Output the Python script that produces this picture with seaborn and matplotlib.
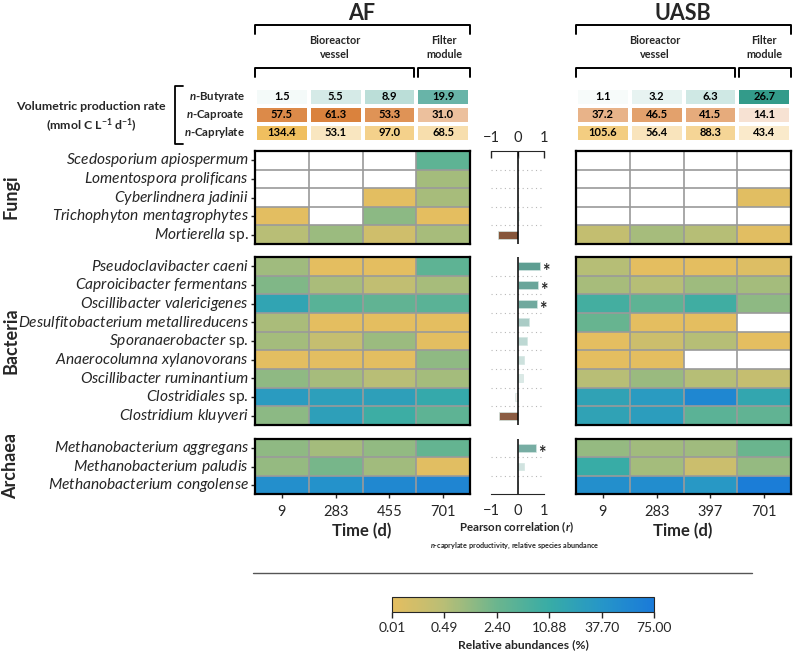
import numpy as np
import pandas as pd
import matplotlib
matplotlib.use("Agg")
import matplotlib.pyplot as plt
import seaborn as sns
from matplotlib.colors import LinearSegmentedColormap, FuncNorm, TwoSlopeNorm
from matplotlib.lines import Line2D

nan = np.nan

# --- data ---
days_af = [9, 283, 455, 701]
days_uasb = [9, 283, 397, 701]
acids = ["Butyrate", "Caproate", "Caprylate"]
prod_af = [[1.5, 5.5, 8.9, 19.9],
           [57.5, 61.3, 53.3, 31.0],
           [134.4, 53.1, 97.0, 68.5]]
prod_uasb = [[1.1, 3.2, 6.3, 26.7],
             [37.2, 46.5, 41.5, 14.1],
             [105.6, 56.4, 88.3, 43.4]]

fungi = ["Scedosporium apiospermum", "Lomentospora prolificans", "Cyberlindnera jadinii",
         "Trichophyton mentagrophytes", "Mortierella sp."]
bacteria = ["Pseudoclavibacter caeni", "Caproicibacter fermentans", "Oscillibacter valericigenes",
            "Desulfitobacterium metallireducens", "Sporanaerobacter sp.", "Anaerocolumna xylanovorans",
            "Oscillibacter ruminantium", "Clostridiales sp.", "Clostridium kluyveri"]
archaea = ["Methanobacterium aggregans", "Methanobacterium paludis", "Methanobacterium congolense"]

# relative abundances (%), NaN = not detected
fungi_af = [[nan, nan, nan, 4.5],
            [nan, nan, nan, 0.97],
            [nan, nan, 0.03, 0.9],
            [0.03, nan, 1.6, 0.02],
            [0.5, 1.2, 0.25, 0.9]]
fungi_uasb = [[nan, nan, nan, nan],
              [nan, nan, nan, nan],
              [nan, nan, nan, 0.05],
              [nan, nan, nan, nan],
              [0.37, 0.95, 0.55, 0.06]]
bacteria_af = [[1.1, 0.02, 0.02, 4.5],
               [1.9, 0.85, 0.4, 0.9],
               [21, 5.5, 4.0, 5.3],
               [0.85, 0.02, 0.02, 0.02],
               [1.0, 0.35, 1.2, 0.03],
               [0.03, 0.03, 0.03, 1.5],
               [1.5, 0.95, 0.5, 0.97],
               [31, 27, 26, 15],
               [1.6, 26, 10, 4.5]]
bacteria_uasb = [[0.55, 0.02, 0.02, 0.1],
                 [0.9, 0.55, 1.15, 1.0],
                 [8.8, 4.5, 9.5, 1.55],
                 [3.0, 0.02, 0.02, nan],
                 [0.02, 0.28, 0.55, 0.02],
                 [0.02, 0.02, nan, nan],
                 [0.5, 1.25, 0.55, 0.35],
                 [23, 32, 58, 18],
                 [23, 29, 5.0, 4.0]]
archaea_af = [[1.5, 1.0, 1.45, 3.6],
              [1.35, 2.1, 1.05, 0.05],
              [47, 43, 56, 60]]
archaea_uasb = [[1.35, 1.05, 1.1, 2.5],
                [11, 1.0, 0.3, 1.35],
                [47, 50, 35, 70]]

# Pearson r (n-caprylate productivity vs. species abundance)
r_fungi = [0.0, 0.0, 0.0, 0.05, -0.72]
r_bacteria = [0.84, 0.78, 0.75, 0.44, 0.34, 0.26, 0.19, -0.08, -0.69]
r_archaea = [0.71, 0.24, 0.02]
sig_fungi = [False, False, False, False, False]
sig_bacteria = [True, True, True, False, False, False, False, False, False]
sig_archaea = [True, False, False]

cbar_ticks = [0.01, 0.49, 2.40, 10.88, 37.70, 75.00]

# --- style ---
sns.set_style("white")
plt.rcParams["font.family"] = "Lato"
plt.rcParams["mathtext.fontset"] = "custom"
plt.rcParams["mathtext.rm"] = "Lato"
plt.rcParams["mathtext.it"] = "Lato:italic"
plt.rcParams["mathtext.bf"] = "Lato:bold"
plt.rcParams["mathtext.bfit"] = "Lato:italic:bold"

W, H = 794, 662
fig = plt.figure(figsize=(W / 100, H / 100), dpi=100)


def px_axes(x0, y0, x1, y1):
    return fig.add_axes([x0 / W, 1 - y1 / H, (x1 - x0) / W, (y1 - y0) / H])


def px_text(x, y, s, **kw):
    kw.setdefault("ha", "center")
    kw.setdefault("va", "center")
    return fig.text(x / W, 1 - y / H, s, **kw)


def px_line(xs, ys, **kw):
    kw.setdefault("color", "black")
    kw.setdefault("lw", 1.4)
    fig.add_artist(Line2D([x / W for x in xs], [1 - y / H for y in ys], **kw))


def fmt_species(name):
    if name.endswith(" sp."):
        return r"$\mathit{" + name[:-4] + r"}$ sp."
    return r"$\mathit{" + name.replace(" ", r"\ ") + "}$"


# colour scales
abund_cmap = LinearSegmentedColormap.from_list(
    "abund", ["#E5BE60", "#B8BE76", "#6BB58E", "#38ACA6", "#2696C8", "#1A7AD9"])
pos = np.linspace(0, 1, len(cbar_ticks))
abund_norm = FuncNorm((lambda x: np.interp(x, cbar_ticks, pos),
                       lambda y: np.interp(y, pos, cbar_ticks)), vmin=0.01, vmax=75)

prod_cmaps = [LinearSegmentedColormap.from_list("but", ["#FFFFFF", "#2A9685"]),
              LinearSegmentedColormap.from_list("cap", ["#FFFFFF", "#D97F38"]),
              LinearSegmentedColormap.from_list("cyl", ["#FFFFFF", "#F0BE5C"])]
prod_vmax = [28, 63, 137]

div_cmap = LinearSegmentedColormap.from_list("div", ["#8E4B25", "#FFFFFF", "#52A898"])
div_norm = TwoSlopeNorm(vcenter=0, vmin=-0.75, vmax=0.85)

rows_y = {"fungi": (151, 244), "bacteria": (257, 425), "archaea": (439, 494)}
groups = [("fungi", fungi), ("bacteria", bacteria), ("archaea", archaea)]


def draw_side(x0, x1, data_list, prod, days, labels_on):
    # production table
    ax = px_axes(x0, 88, x1, 142)
    dfp = pd.DataFrame(prod, index=acids, columns=days)
    for i in range(3):
        mask = np.ones_like(dfp.values, dtype=bool)
        mask[i, :] = False
        sns.heatmap(dfp, mask=mask, cmap=prod_cmaps[i], vmin=0, vmax=prod_vmax[i],
                    annot=True, fmt=".1f", cbar=False, linewidths=2.6, linecolor="white",
                    annot_kws={"fontsize": 8, "fontweight": "bold", "color": "black"},
                    xticklabels=False, yticklabels=False, ax=ax)
    ax.set_xlabel("")
    ax.set_ylabel("")

    mesh = None
    for (key, names), data in zip(groups, data_list):
        y0, y1 = rows_y[key]
        ax = px_axes(x0, y0, x1, y1)
        df = pd.DataFrame(data, index=names, columns=days)
        sns.heatmap(df, cmap=abund_cmap, norm=abund_norm, cbar=False,
                    xticklabels=(key == "archaea"),
                    yticklabels=[fmt_species(n) for n in names] if labels_on else False,
                    ax=ax)
        mesh = ax.collections[0]
        n = len(names)
        ax.hlines(np.arange(1, n), 0, 4, color="#9a9a9a", lw=1.2)
        ax.vlines(np.arange(1, 4), 0, n, color="#9a9a9a", lw=1.2)
        for sp in ax.spines.values():
            sp.set_visible(True)
            sp.set_color("black")
            sp.set_linewidth(1.6)
        ax.set_xlabel("")
        ax.set_ylabel("")
        if labels_on:
            ax.tick_params(axis="y", left=True, length=3, width=1, pad=1.5,
                           labelsize=11.2, rotation=0)
        else:
            ax.tick_params(axis="y", left=False)
        if key == "archaea":
            ax.tick_params(axis="x", bottom=True, length=3, width=1, pad=5,
                           labelsize=10.5, rotation=0)
        else:
            ax.tick_params(axis="x", bottom=False)
    return mesh


mesh = draw_side(255, 470, [fungi_af, bacteria_af, archaea_af], prod_af, days_af, True)
draw_side(576, 791, [fungi_uasb, bacteria_uasb, archaea_uasb], prod_uasb, days_uasb, False)

# correlation panels
for (key, names), r, sig in zip(groups, [r_fungi, r_bacteria, r_archaea],
                                [sig_fungi, sig_bacteria, sig_archaea]):
    y0, y1 = rows_y[key]
    ax = px_axes(491, y0, 544, y1)
    n = len(names)
    dfc = pd.DataFrame({"species": names, "r": r})
    colors = [div_cmap(div_norm(v)) for v in r]
    sns.barplot(data=dfc, x="r", y="species", hue="species", palette=colors,
                orient="h", width=0.42, legend=False, edgecolor="#d3e6e2",
                linewidth=0.5, ax=ax)
    for i in range(n - 1):
        ax.plot([-1, 1], [i + 0.5, i + 0.5], ls=(0, (1, 3)), color="#b8b8b8", lw=0.8)
    ax.axvline(0, color="black", lw=1.1)
    for i, (v, s) in enumerate(zip(r, sig)):
        if s:
            ax.text(v + 0.08, i + 0.3, "*", ha="left", va="center", fontsize=13,
                    fontweight="bold")
    ax.set_xlim(-1, 1)
    ax.set_ylim(n - 0.5, -0.5)
    ax.set_xlabel("")
    ax.set_ylabel("")
    ax.set_yticks([])
    ax.patch.set_alpha(0)
    for sp in ax.spines.values():
        sp.set_visible(False)
    if key == "fungi":
        ax.spines["top"].set_visible(True)
        ax.spines["top"].set_bounds(-1, 1)
        ax.xaxis.set_ticks_position("top")
        ax.set_xticks([-1, 0, 1], ["\u22121", "0", "1"])
        ax.tick_params(axis="x", top=True, labeltop=True, bottom=False, labelbottom=False,
                       direction="in", length=5, width=1, pad=4.5, labelsize=10.5)
    elif key == "archaea":
        ax.spines["bottom"].set_visible(True)
        ax.spines["bottom"].set_bounds(-1, 1)
        ax.set_xticks([-1, 0, 1], ["\u22121", "0", "1"])
        ax.tick_params(axis="x", direction="in", length=5, width=1, pad=7.5, labelsize=10.5)
    else:
        ax.set_xticks([])

# brackets and headers
for left, right, bio_r, fil_l, bio_c, fil_c, title_x, title in [
        (255, 470, 414, 418, 335, 444, 362, "AF"),
        (576, 791, 735, 739, 655, 764, 683, "UASB")]:
    px_line([left, left, right, right], [34, 25, 25, 34])
    px_line([left, left, bio_r, bio_r], [77, 68, 68, 77])
    px_line([fil_l, fil_l, right, right], [77, 68, 68, 77])
    px_text(title_x, 13, title, fontsize=15.5, fontweight="bold")
    px_text(bio_c, 41, "Bioreactor", fontsize=7.8, fontweight="bold")
    px_text(bio_c, 55, "vessel", fontsize=7.8, fontweight="bold")
    px_text(fil_c, 41, "Filter", fontsize=7.8, fontweight="bold")
    px_text(fil_c, 55, "module", fontsize=7.8, fontweight="bold")
    px_text(title_x, 531, "Time (d)", fontsize=12, fontweight="bold")

px_line([183, 175, 175, 183], [86, 86, 144, 144], lw=1.3)
for acid, yy in zip(acids, [97, 115, 133]):
    px_text(245, yy, r"$\mathbfit{n}$-" + acid, ha="right", fontsize=8.2, fontweight="bold")
px_text(91, 107, "Volumetric production rate", fontsize=8.9, fontweight="bold")
px_text(91, 126, r"(mmol C L$^{\mathbf{-1}}$ d$^{\mathbf{-1}}$)", fontsize=8.9, fontweight="bold")

for label, yy in [("Fungi", 197), ("Bacteria", 341), ("Archaea", 466)]:
    px_text(11, yy, label, rotation=90, fontsize=13, fontweight="bold")

px_text(516, 527, r"Pearson correlation ($\mathbfit{r}$)", fontsize=8.3, fontweight="bold")
px_text(515, 546, r"$\mathbfit{n}$-caprylate productivity, relative species abundance",
        fontsize=5.2, fontweight="bold")

px_line([253, 752], [573, 573], lw=1.0, color="#555555")

# colour bar
cax = px_axes(392, 597, 654, 612)
cb = fig.colorbar(mesh, cax=cax, orientation="horizontal")
cb.set_ticks(cbar_ticks)
cb.set_ticklabels([f"{t:.2f}" for t in cbar_ticks])
cb.ax.tick_params(labelsize=10, length=4, width=1, pad=3)
cb.outline.set_linewidth(0.8)
cb.ax.xaxis.set_minor_locator(matplotlib.ticker.NullLocator())
px_text(523, 645, "Relative abundances (%)", fontsize=8.7, fontweight="bold")

fig.savefig("out.png", dpi=100)
